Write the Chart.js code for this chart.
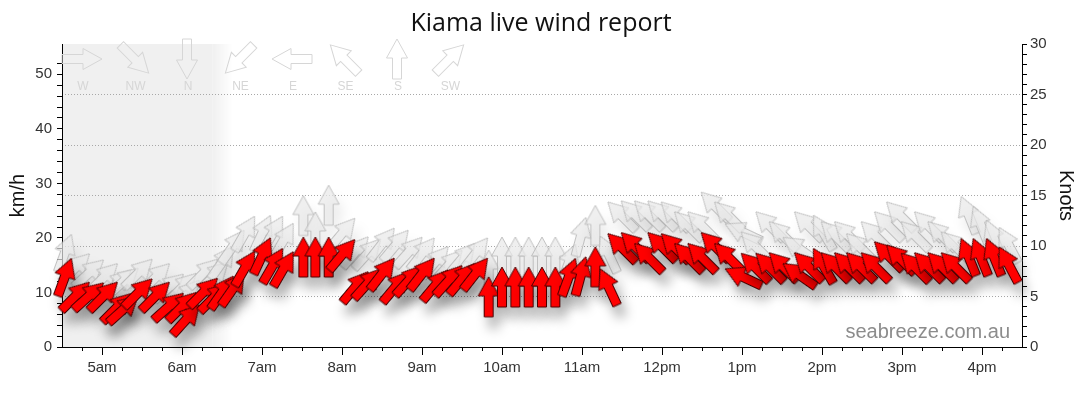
<!DOCTYPE html>
<html>
<head>
<meta charset="utf-8">
<script src="https://cdn.jsdelivr.net/npm/chart.js@4.4.1/dist/chart.umd.min.js"></script>
<style>
  html, body { margin: 0; padding: 0; background: #fff; }
</style>
</head>
<body>
<canvas id="wind" width="1080" height="414"></canvas>
<script>
// Kiama live wind report — speed (red) + gust (grey) arrows, 10-min readings.

// reading times, minutes after midnight
var times = [272, 280, 290, 301, 311, 316, 327, 340, 350, 360, 363, 376, 384,
  390, 398, 407, 420, 428, 436, 451, 460, 470, 480,
  490, 499, 510, 520, 530, 540, 550, 560, 570, 580,
  590, 600, 610, 620, 630, 640, 650, 659, 670, 680,
  690, 700, 710, 720, 730, 740, 750, 760, 770, 781, 790, 801, 811, 823, 830, 841,
  850, 860, 869, 880, 890, 899, 910, 920, 930, 940, 950, 959, 969, 980];

// average wind, km/h
var speeds = [12.8, 9.3, 9.3, 9.3, 7.2, 6.9, 9.9, 9.3, 7.4, 7.4, 5.0, 10.0, 9.1,
  10.0, 10.6, 14.4, 16.7, 14.9, 14.3, 16.5, 16.5, 16.5, 16.9,
  11.0, 11.6, 13.4, 11.0, 12.2, 13.4, 11.3, 12.2, 12.5, 13.4,
  9.2, 11.0, 11.0, 11.0, 11.0, 11.0, 12.8, 13.0, 14.7, 11.0,
  18.2, 18.4, 16.4, 18.4, 18.2, 16.4, 16.4, 18.4, 16.4, 12.8, 14.6, 14.6, 14.7, 13.2, 14.7, 14.9,
  14.7, 14.7, 14.7, 14.7, 16.7, 16.1, 14.6, 14.7, 14.7, 14.7, 16.5, 16.5, 16.5, 15.1];

// gusts, km/h
var gusts = [17.2, 14.5, 13.5, 12.7, 11.5, 12.0, 13.5, 12.7, 10.9, 10.9, 9.5, 13.5, 13.0,
  15.5, 18.4, 20.8, 20.8, 20.8, 19.5, 24.1, 21.1, 26.0, 20.8,
  17.4, 17.1, 18.9, 18.6, 17.4, 17.1, 15.6, 15.0, 16.2, 17.1,
  14.1, 16.5, 16.5, 16.5, 16.5, 16.5, 15.4, 20.2, 22.3, 17.0,
  24.0, 24.2, 24.2, 24.2, 24.0, 22.2, 22.2, 25.8, 24.0, 21.0, 18.5, 22.2, 20.4, 18.0, 22.2, 21.0,
  20.4, 20.4, 18.2, 20.4, 22.2, 24.0, 20.4, 22.2, 20.4, 18.5, 24.2, 22.4, 19.9, 18.7];

// direction the wind comes from, degrees
var dirs = [200, 225, 228, 225, 225, 228, 225, 225, 228, 225, 222, 225, 225,
  215, 215, 210, 205, 210, 210, 180, 180, 180, 220,
  220, 222, 218, 220, 222, 218, 220, 222, 220, 218,
  180, 180, 180, 180, 180, 180, 200, 195, 180, 155,
  135, 135, 135, 135, 135, 135, 135, 135, 135, 115, 135, 135, 135, 125, 135, 150,
  135, 135, 135, 135, 135, 135, 135, 135, 135, 135, 158, 158, 158, 152];

// direction key
var keyLabels = ['W', 'NW', 'N', 'NE', 'E', 'SE', 'S', 'SW'];
var keyDirs = [270, 315, 0, 45, 90, 135, 180, 225];

// night shading ends (minutes)
var nightSolid = 383;
var nightFade = 398;

var KMH_PER_KNOT = 1.852;

function arrowPath(g) {
  // arrow pointing up, centred on 0,0
  g.beginPath();
  g.moveTo(0, -20);
  g.lineTo(10.5, -1);
  g.lineTo(4.5, -1);
  g.lineTo(4.5, 20);
  g.lineTo(-4.5, 20);
  g.lineTo(-4.5, -1);
  g.lineTo(-10.5, -1);
  g.closePath();
}

function arrowImage(fill, stroke) {
  var c = document.createElement('canvas');
  c.width = 46; c.height = 46;
  var g = c.getContext('2d');
  g.translate(23, 23);
  arrowPath(g);
  g.fillStyle = fill;
  g.fill();
  g.lineWidth = 1;
  g.strokeStyle = stroke;
  g.stroke();
  return c;
}

var redArrow = arrowImage('#ff0000', '#4a0000');
var greyArrow = arrowImage('rgba(232,232,232,0.7)', 'rgba(180,180,180,0.8)');

var windPts = times.map(function (t, i) { return { x: t, y: speeds[i] }; });
var gustPts = times.map(function (t, i) { return { x: t, y: gusts[i] }; });
var rots = dirs.map(function (d) { return (d + 180) % 360; });

function hourLabel(m) {
  var h = Math.round(m / 60);
  var suf = h < 12 ? 'am' : 'pm';
  var hh = h % 12 === 0 ? 12 : h % 12;
  return hh + suf;
}

// night shade, title, key, watermark
var decor = {
  id: 'decor',
  beforeDraw: function (chart) {
    var a = chart.chartArea, ctx = chart.ctx, x = chart.scales.x;
    var x1 = x.getPixelForValue(nightSolid), x2 = x.getPixelForValue(nightFade);
    ctx.save();
    var grad = ctx.createLinearGradient(x1, 0, x2, 0);
    grad.addColorStop(0, 'rgba(240,240,240,1)');
    grad.addColorStop(1, 'rgba(240,240,240,0)');
    ctx.fillStyle = '#f0f0f0';
    ctx.fillRect(a.left, a.top, x1 - a.left, a.bottom - a.top);
    ctx.fillStyle = grad;
    ctx.fillRect(x1, a.top, x2 - x1, a.bottom - a.top);

    ctx.fillStyle = '#111';
    ctx.font = '25px "Open Sans", sans-serif';
    ctx.textAlign = 'center';
    ctx.textBaseline = 'alphabetic';
    ctx.fillText('Kiama live wind report', 541, 31);
    ctx.restore();
  },
  beforeDatasetsDraw: function (chart) {
    var a = chart.chartArea, ctx = chart.ctx;
    ctx.save();
    // direction key
    for (var i = 0; i < keyLabels.length; i++) {
      var cx = a.left + 20 + i * 52.5, cy = a.top + 15;
      ctx.save();
      ctx.translate(cx, cy);
      ctx.rotate(((keyDirs[i] + 180) % 360) * Math.PI / 180);
      arrowPath(ctx);
      ctx.lineWidth = 1;
      ctx.strokeStyle = '#d6d6d6';
      ctx.stroke();
      ctx.restore();
      ctx.fillStyle = '#d6d6d6';
      ctx.font = '12px "Liberation Sans", Arial, sans-serif';
      ctx.textAlign = 'center';
      ctx.textBaseline = 'middle';
      ctx.fillText(keyLabels[i], cx + 1, a.top + 43);
    }
    // watermark
    ctx.fillStyle = '#8c8c8c';
    ctx.font = '20px "Liberation Sans", Arial, sans-serif';
    ctx.textAlign = 'right';
    ctx.textBaseline = 'alphabetic';
    ctx.fillText('seabreeze.com.au', a.right - 12, a.bottom - 9);
    ctx.restore();
  },
  afterDraw: function (chart) {
    // 15-minute minor ticks on the time axis
    var x = chart.scales.x, ctx = chart.ctx, y0 = chart.chartArea.bottom;
    ctx.save();
    ctx.strokeStyle = '#000';
    ctx.lineWidth = 1;
    for (var m = x.min + 15; m < x.max; m += 15) {
      if (m % 60 === 0) continue;
      var px = Math.round(x.getPixelForValue(m)) + 0.5;
      ctx.beginPath();
      ctx.moveTo(px, y0);
      ctx.lineTo(px, y0 + 4);
      ctx.stroke();
    }
    ctx.restore();
  }
};

// drop shadow under each arrow
var shadows = {
  id: 'shadows',
  beforeDatasetDraw: function (chart, args) {
    var ds = chart.data.datasets[args.index];
    var ctx = chart.ctx;
    ctx.save();
    ctx.shadowColor = ds.shadowColor;
    ctx.shadowBlur = 12;
    ctx.shadowOffsetX = 5;
    ctx.shadowOffsetY = 11;
  },
  afterDatasetDraw: function (chart) {
    chart.ctx.restore();
  }
};

var tickFont = { family: '"Liberation Sans", Arial, sans-serif', size: 15 };

new Chart(document.getElementById('wind'), {
  type: 'scatter',
  data: {
    datasets: [
      { label: 'Wind', data: windPts, yAxisID: 'y', pointStyle: redArrow, clip: false,
        pointRotation: rots, shadowColor: 'rgba(0,0,0,0.33)' },
      { label: 'Gust', data: gustPts, yAxisID: 'y', pointStyle: greyArrow, clip: false,
        pointRotation: rots, shadowColor: 'rgba(0,0,0,0.11)' }
    ]
  },
  options: {
    responsive: false,
    animation: false,
    events: [],
    layout: { padding: { top: 44, left: 0, right: 0, bottom: 0 } },
    plugins: { legend: { display: false }, tooltip: { enabled: false } },
    scales: {
      x: {
        type: 'linear', position: 'bottom', min: 270, max: 990,
        afterBuildTicks: function (s) {
          s.ticks = s.ticks.filter(function (t) { return t.value % 60 === 0; });
        },
        afterFit: function (s) { s.height = 67; s.paddingLeft = 0; s.paddingRight = 0; },
        ticks: { stepSize: 15, autoSkip: false, color: '#333', font: tickFont, padding: 4, maxRotation: 0,
          callback: function (v) { return hourLabel(v); } },
        grid: { drawOnChartArea: false, tickLength: 8, tickColor: '#000' },
        border: { color: '#000' }
      },
      y: {
        position: 'left', min: 0, max: 30 * KMH_PER_KNOT,
        afterBuildTicks: function (s) {
          s.ticks = s.ticks.filter(function (t) { return t.value <= 55; });
        },
        afterFit: function (s) { s.width = 62; s.paddingTop = 0; s.paddingBottom = 0; },
        ticks: { stepSize: 2, autoSkip: false, color: '#333', font: tickFont, padding: 5,
          callback: function (v) { return v % 10 === 0 ? v : ''; } },
        grid: { drawOnChartArea: false, tickLength: 5, tickColor: '#000' },
        border: { color: '#000' },
        title: { display: true, text: 'km/h', color: '#111',
          font: { family: '"Liberation Sans", Arial, sans-serif', size: 20 },
          padding: { top: 6, bottom: 0 } }
      },
      knots: {
        position: 'right', min: 0, max: 30,
        afterFit: function (s) { s.width = 58; s.paddingTop = 0; s.paddingBottom = 0; },
        ticks: { stepSize: 1, autoSkip: false, color: '#333', font: tickFont, padding: 3,
          callback: function (v) { return v % 5 === 0 ? v : ''; } },
        grid: {
          drawOnChartArea: true, tickLength: 5, tickColor: '#000',
          color: function (c) {
            var v = c.tick ? c.tick.value : 0;
            return (v % 5 === 0 && v > 0 && v < 30) ? '#a8a8a8' : 'rgba(0,0,0,0)';
          }
        },
        border: { color: '#000', dash: [1, 2] },
        title: { display: true, text: 'Knots', color: '#111',
          font: { family: '"Liberation Sans", Arial, sans-serif', size: 20 },
          padding: { top: 2, bottom: 0 } }
      }
    }
  },
  plugins: [decor, shadows]
});
</script>
</body>
</html>
